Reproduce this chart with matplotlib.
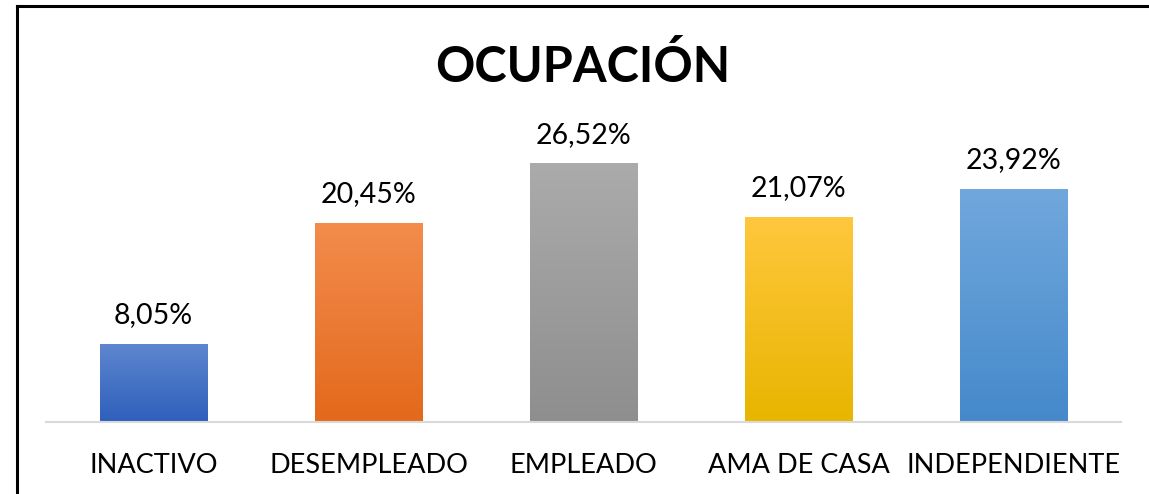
import numpy as np
import matplotlib.pyplot as plt
import matplotlib.patheffects as pe
from matplotlib.colors import LinearSegmentedColormap

categorias = ["INACTIVO", "DESEMPLEADO", "EMPLEADO", "AMA DE CASA", "INDEPENDIENTE"]
valores = [8.05, 20.45, 26.52, 21.07, 23.92]
etiquetas = ["8,05%", "20,45%", "26,52%", "21,07%", "23,92%"]

# top / bottom colour of each gradient bar
col_arriba = ["#5f87cf", "#f38c4d", "#ababab", "#ffc73d", "#71a8dc"]
col_abajo = ["#2e5fbb", "#e3691b", "#8e8e8e", "#e8b500", "#4589cb"]

plt.rcParams["font.family"] = ["Lato", "DejaVu Sans"]

fig = plt.figure(figsize=(11.49, 4.94), dpi=100)
ax = fig.add_axes([0.04, 0.1457, 0.9356, 0.6316])

x = np.arange(len(categorias))
barras = ax.bar(x, valores, width=0.5, color="none", zorder=2)

grad = np.linspace(1, 0, 256).reshape(-1, 1)
for b, c1, c2 in zip(barras, col_arriba, col_abajo):
    cmap = LinearSegmentedColormap.from_list("g", [c2, c1])
    bx, by = b.get_x(), b.get_y()
    w, h = b.get_width(), b.get_height()
    # soft shadow behind the bar
    ax.bar(bx + w / 2, h, width=w, color="none", edgecolor="none", zorder=1,
           path_effects=[pe.SimplePatchShadow(offset=(0, -1), shadow_rgbFace="#888888", alpha=0.5)])
    im = ax.imshow(grad, cmap=cmap, extent=[bx, bx + w, by, by + h],
                   aspect="auto", zorder=2, interpolation="bilinear")
    im.set_clip_path(b)

for xi, v, t in zip(x, valores, etiquetas):
    ax.text(xi, v + 2.9, t, ha="center", va="center", fontsize=20.5, color="#000000")

ax.set_xlim(-0.5, 4.5)
ax.set_ylim(0, 32)
ax.set_xticks(x)
ax.set_xticklabels(categorias, fontsize=19.5)
ax.tick_params(axis="x", length=0, pad=22)
ax.set_yticks([])
for s in ["top", "right", "left"]:
    ax.spines[s].set_visible(False)
ax.spines["bottom"].set_color("#d9d9d9")
ax.spines["bottom"].set_linewidth(1.5)

fig.text(0.507, 0.865, "OCUPACIÓN", ha="center", va="center",
         fontsize=35, fontweight="bold")

# frame lines (left and top visible in the reference)
fig.add_artist(plt.Line2D([0.0152, 0.0152], [0, 0.987], color="black", lw=2.2, transform=fig.transFigure))
fig.add_artist(plt.Line2D([0.0152, 1], [0.987, 0.987], color="black", lw=2.2, transform=fig.transFigure))

fig.savefig("out.png", dpi=100)
